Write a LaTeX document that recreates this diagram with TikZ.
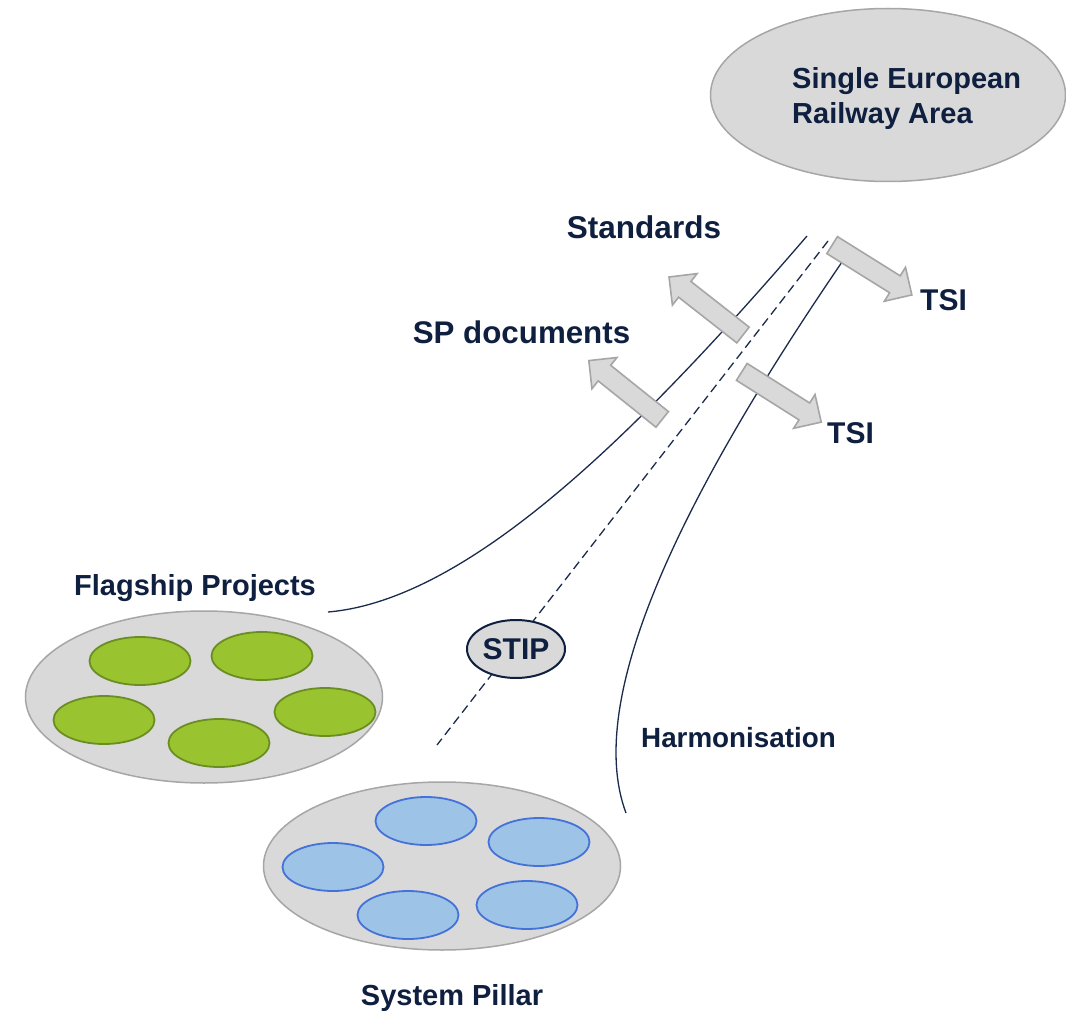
\documentclass[tikz,border=0pt]{standalone}
\usepackage{fontspec}
\setmainfont{Liberation Sans}
\usetikzlibrary{shapes.geometric}
\definecolor{navy}{HTML}{0F1F3F}
\definecolor{linenavy}{HTML}{1C2B4C}
\definecolor{bggray}{HTML}{D9D9D9}
\definecolor{edgegray}{HTML}{A6A6A6}
\definecolor{greenfill}{HTML}{9AC42F}
\definecolor{greenedge}{HTML}{6B8E23}
\definecolor{bluefill}{HTML}{9DC3E6}
\definecolor{blueedge}{HTML}{4472D8}
\begin{document}
\begin{tikzpicture}[x=1pt,y=-1pt,
  lbl/.style={font=\fontsize{29}{35}\selectfont\bfseries, text=navy, inner sep=0pt},
  bigell/.style={ellipse, draw=edgegray, fill=bggray, line width=1.5pt, inner sep=0pt},
  greenell/.style={ellipse, draw=greenedge, fill=greenfill, line width=1.8pt, minimum width=101, minimum height=48, inner sep=0pt},
  blueell/.style={ellipse, draw=blueedge, fill=bluefill, line width=1.8pt, minimum width=101, minimum height=48, inner sep=0pt},
  thinline/.style={draw=linenavy, line width=1.3pt},
  dashline/.style={draw=linenavy, line width=1.3pt, dash pattern=on 9pt off 5pt},
  arrowstyle/.style={draw=edgegray, fill=bggray, line width=1.6pt, line join=miter},
  fatarrow/.pic={\path[arrowstyle] (-47,-10) -- (27,-10) -- (27,-20) -- (47,0) -- (27,20) -- (27,10) -- (-47,10) -- cycle;}
]
\useasboundingbox[fill=white] (0,0) rectangle (1066,1011);

% Single European Railway Area
\node[bigell, minimum width=355, minimum height=173] (sera) at (888,95) {};
\node[lbl, align=left, anchor=north west] (seratxt) at (792,67) {Single European\\Railway Area};

% connector coordinates
\coordinate (lTop) at (807,236);
\coordinate (lBot) at (328,612);
\coordinate (dTop) at (828,241);
\coordinate (dBot) at (437,745);
\coordinate (rTop) at (842,262);
\coordinate (rBot) at (626,813);

\draw[thinline] (lBot) .. controls (470,600) and (640,430) .. (lTop);
\draw[dashline] (dTop) -- (dBot);
\draw[thinline] (rTop) .. controls (700,470) and (580,690) .. (rBot);

% fat arrows
\pic[rotate=141.9] at (706,306) {fatarrow};
\pic[rotate=141.3] at (625.5,390) {fatarrow};
\pic[rotate=-32] at (872,270) {fatarrow};
\pic[rotate=-32.3] at (781.5,397) {fatarrow};

% labels
\node[lbl, anchor=base, font=\fontsize{31.5}{35}\selectfont\bfseries] (std) at (644,239) {Standards};
\node[lbl, anchor=base, font=\fontsize{31.3}{35}\selectfont\bfseries] (spd) at (521.5,343) {SP documents};
\node[lbl, anchor=base west, font=\fontsize{30}{35}\selectfont\bfseries] (tsia) at (920,310) {TSI};
\node[lbl, anchor=base west, font=\fontsize{30}{35}\selectfont\bfseries] (tsib) at (827,443) {TSI};
\node[lbl, anchor=base] (fp) at (195,595) {Flagship Projects};
\node[lbl, anchor=base, font=\fontsize{27.8}{35}\selectfont\bfseries] (harm) at (738.5,747) {Harmonisation};
\node[lbl, anchor=base] (sp) at (452,1005) {System Pillar};

% STIP
\node[ellipse, draw=navy, fill=bggray, line width=2pt, minimum width=98, minimum height=58, inner sep=0pt, font=\fontsize{30}{35}\selectfont\bfseries, text=navy] (stip) at (516,649) {STIP};

% Flagship Projects group
\node[bigell, minimum width=357, minimum height=172] (fpgroup) at (204,697) {};
\node[greenell] (g1) at (140,661) {};
\node[greenell] (g2) at (262,656) {};
\node[greenell] (g3) at (104,720) {};
\node[greenell] (g4) at (219,743) {};
\node[greenell] (g5) at (325,712) {};

% System Pillar group
\node[bigell, minimum width=357, minimum height=168] (spgroup) at (442,866) {};
\node[blueell] (b1) at (426,821) {};
\node[blueell] (b2) at (539,842) {};
\node[blueell] (b3) at (333,867) {};
\node[blueell] (b4) at (408,915) {};
\node[blueell] (b5) at (527,905) {};
\end{tikzpicture}
\end{document}
